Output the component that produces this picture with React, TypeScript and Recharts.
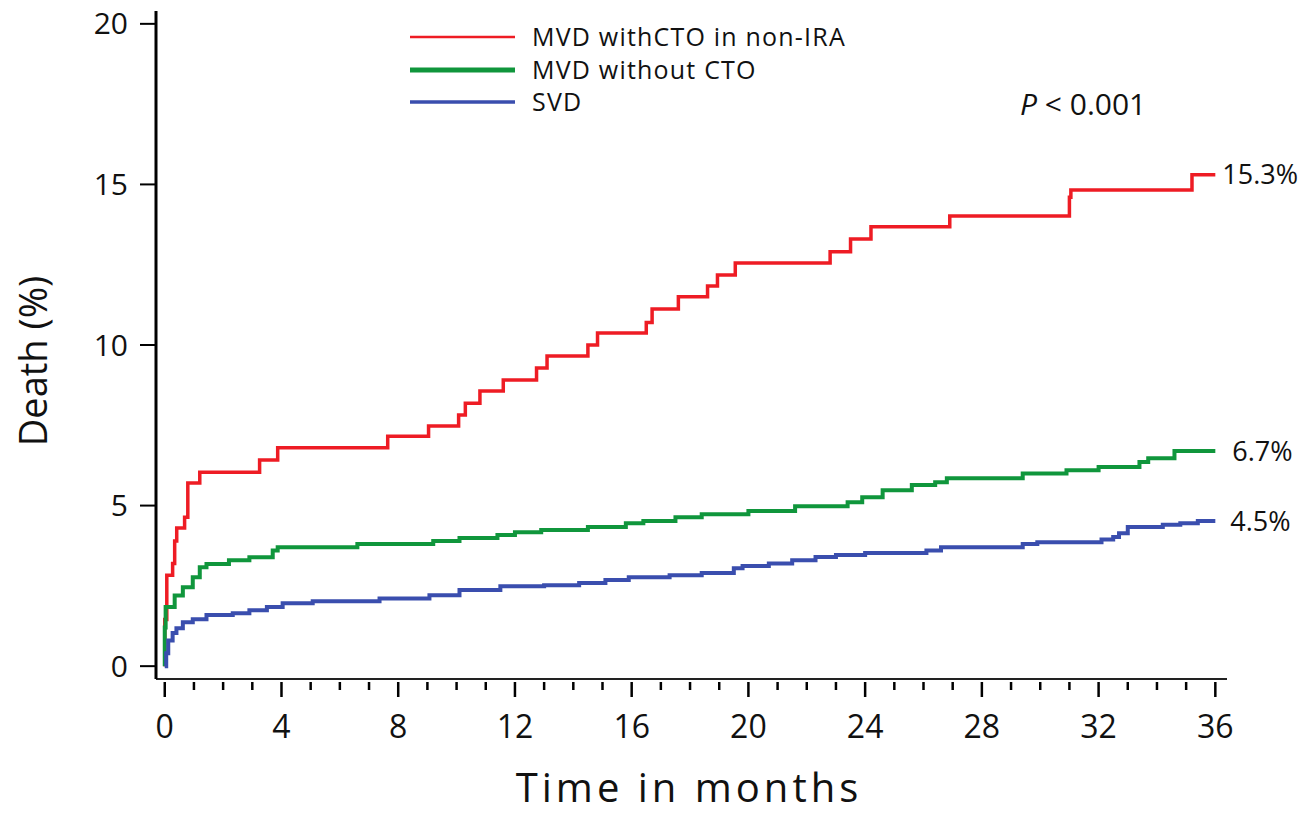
import React from 'react';
import { LineChart, Line, XAxis, YAxis, ReferenceDot } from 'recharts';

// ---- data (months, cumulative death %) ----
const redTimes = [0, 0, 0.07, 0.27, 0.34, 0.41, 0.68, 0.79, 1.2, 3.25, 3.87, 7.64, 9.04, 10.07, 10.3, 10.8, 11.6, 12.74, 13.1, 14.5, 14.83, 16.5, 16.7, 17.6, 18.6, 18.94, 19.55, 22.8, 23.5, 24.2, 26.9, 31.0, 31.05, 35.2, 36];
const redValues = [0, 1.45, 2.83, 3.2, 3.9, 4.3, 4.64, 5.7, 6.04, 6.42, 6.8, 7.16, 7.48, 7.82, 8.19, 8.57, 8.91, 9.28, 9.66, 10.0, 10.37, 10.7, 11.12, 11.5, 11.84, 12.18, 12.55, 12.9, 13.3, 13.68, 14.02, 14.6, 14.83, 15.3, 15.3];

const greenTimes = [0, 0, 0, 0.03, 0.34, 0.62, 0.96, 1.2, 1.43, 2.2, 2.9, 3.7, 3.87, 6.6, 9.2, 10.1, 11.4, 12, 12.9, 14.5, 15.8, 16.4, 17.5, 18.4, 20, 21.6, 23.4, 23.9, 24.6, 25.6, 26.4, 26.8, 29.4, 30.9, 32, 33.4, 33.7, 34.6, 36];
const greenValues = [0, 0.5, 1.2, 1.84, 2.2, 2.46, 2.77, 3.08, 3.18, 3.3, 3.39, 3.6, 3.7, 3.8, 3.9, 3.99, 4.08, 4.17, 4.24, 4.33, 4.45, 4.52, 4.64, 4.73, 4.83, 4.98, 5.1, 5.26, 5.48, 5.64, 5.73, 5.85, 6.0, 6.1, 6.2, 6.36, 6.47, 6.7, 6.7];

const blueTimes = [0, 0.05, 0.12, 0.27, 0.4, 0.62, 0.96, 1.43, 2.33, 2.9, 3.5, 4.04, 5.07, 7.36, 9.07, 10.1, 11.5, 13, 14.2, 15.1, 15.9, 17.3, 18.4, 19.5, 19.8, 20.7, 21.5, 22.3, 23, 24, 26.1, 26.6, 29.4, 29.9, 32.1, 32.5, 32.7, 33, 34.2, 34.8, 35.4, 36];
const blueValues = [0, 0.4, 0.8, 1.03, 1.18, 1.37, 1.46, 1.59, 1.65, 1.74, 1.84, 1.96, 2.02, 2.11, 2.21, 2.37, 2.49, 2.52, 2.59, 2.68, 2.77, 2.83, 2.9, 3.05, 3.12, 3.2, 3.3, 3.4, 3.46, 3.52, 3.6, 3.7, 3.8, 3.86, 3.94, 4.02, 4.14, 4.33, 4.4, 4.45, 4.52, 4.52];

const seriesNames = ['MVD withCTO in non-IRA', 'MVD without CTO', 'SVD'];
const seriesColors = ['#ee1c24', '#10963c', '#3a4eae'];
const endLabels = ['15.3%', '6.7%', '4.5%'];
const xTicks = Array.from({ length: 37 }, (_, i) => i);
const yTicks = [0, 5, 10, 15, 20];

const toRows = (t: number[], v: number[]) => t.map((tt, i) => ({ t: tt, v: v[i] }));
const redData = toRows(redTimes, redValues);
const greenData = toRows(greenTimes, greenValues);
const blueData = toRows(blueTimes, blueValues);

const FONT = '"Open Sans", "Noto Sans", sans-serif';

const XTick = (props: any) => {
  const { x, y, payload } = props;
  const major = payload.value % 4 === 0;
  return (
    <g>
      <line x1={x} x2={x} y1={y + 3} y2={y + (major ? 18 : 11)} stroke="#000" strokeWidth={2.5} />
      {major && (
        <text x={x} y={y + 59} textAnchor="middle" fontSize={32} fontFamily={FONT} fill="#111">
          {payload.value}
        </text>
      )}
    </g>
  );
};

export default function App() {
  return (
    <div style={{ position: 'relative', width: 1306, height: 813, margin: '-8px 0 0 -8px' }}>
      <LineChart width={1306} height={813} margin={{ top: 11, right: 79, bottom: 0, left: 0 }}>
        <XAxis
          type="number"
          dataKey="t"
          domain={[-0.3, 36.4]}
          ticks={xTicks}
          interval={0}
          allowDataOverflow
          height={134}
          tickSize={0}
          tickMargin={0}
          tickLine={false}
          tick={<XTick />}
          axisLine={{ stroke: '#222', strokeWidth: 2 }}
        />
        <YAxis
          type="number"
          dataKey="v"
          domain={[-0.4, 20.4]}
          ticks={yTicks}
          interval={0}
          allowDataOverflow
          width={156}
          tickSize={16}
          tickMargin={12}
          tickLine={{ stroke: '#000', strokeWidth: 2 }}
          tick={{ fontSize: 30, fill: '#111', fontFamily: FONT }}
          axisLine={{ stroke: '#000', strokeWidth: 3 }}
        />
        <Line data={redData} dataKey="v" type="stepAfter" stroke={seriesColors[0]} strokeWidth={3.5} dot={false} isAnimationActive={false} strokeLinejoin="miter" />
        <Line data={greenData} dataKey="v" type="stepAfter" stroke={seriesColors[1]} strokeWidth={4} dot={false} isAnimationActive={false} strokeLinejoin="miter" />
        <Line data={blueData} dataKey="v" type="stepAfter" stroke={seriesColors[2]} strokeWidth={4} dot={false} isAnimationActive={false} strokeLinejoin="miter" />
        <ReferenceDot x={36} y={redValues[redValues.length - 1]} r={0} fill="none" stroke="none" ifOverflow="visible"
          label={{ value: endLabels[0], position: 'right', offset: 7, fontSize: 27, fill: '#111', fontFamily: FONT }} />
        <ReferenceDot x={36} y={greenValues[greenValues.length - 1]} r={0} fill="none" stroke="none" ifOverflow="visible"
          label={{ value: endLabels[1], position: 'right', offset: 17, fontSize: 27, fill: '#111', fontFamily: FONT }} />
        <ReferenceDot x={36} y={blueValues[blueValues.length - 1]} r={0} fill="none" stroke="none" ifOverflow="visible"
          label={{ value: endLabels[2], position: 'right', offset: 15, fontSize: 27, fill: '#111', fontFamily: FONT }} />
      </LineChart>
      <svg width={1306} height={813} style={{ position: 'absolute', left: 0, top: 0, pointerEvents: 'none' }}>
        {seriesNames.map((name, i) => {
          const cy = [37, 70, 102][i];
          return (
            <g key={name}>
              <line x1={410} x2={515} y1={cy} y2={cy} stroke={seriesColors[i]} strokeWidth={[2.5, 5, 3.5][i]} />
              <text x={532} y={cy + 9} fontSize={25} letterSpacing={1.2} fontFamily={FONT} fill="#111">{name}</text>
            </g>
          );
        })}
        <text x={1020} y={115} fontSize={30} fontFamily={FONT} fill="#111">
          <tspan fontStyle="italic">P</tspan>
          <tspan> &lt; 0.001</tspan>
        </text>
        <text x={689} y={802} textAnchor="middle" fontSize={40} letterSpacing={4} fontFamily={FONT} fill="#111">Time in months</text>
        <text x={47} y={361} textAnchor="middle" fontSize={38} fontFamily={FONT} fill="#111" transform="rotate(-90, 47, 361)">Death (%)</text>
      </svg>
    </div>
  );
}
